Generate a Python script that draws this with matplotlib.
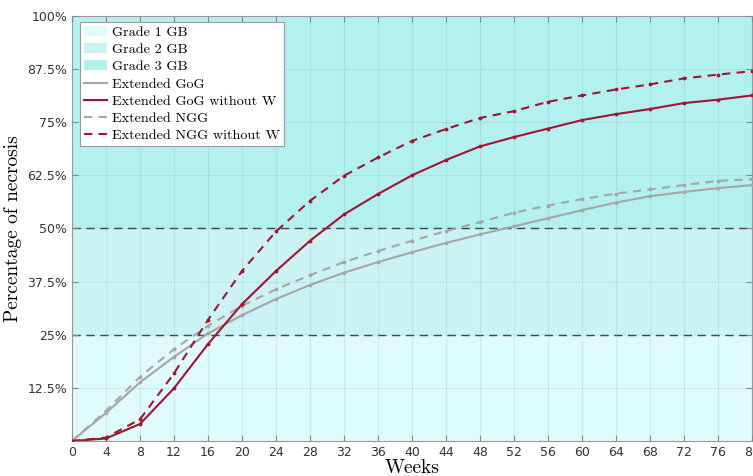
import matplotlib
matplotlib.use("Agg")
import matplotlib.pyplot as plt
from matplotlib.patches import Patch
from matplotlib.lines import Line2D
from matplotlib.ticker import FuncFormatter

# data (weeks, % necrosis)
weeks = [0, 4, 8, 12, 16, 20, 24, 28, 32, 36, 40, 44, 48, 52, 56, 60, 64, 68, 72, 76, 80]
gog = [0, 6.6, 13.8, 19.8, 25.3, 29.6, 33.4, 36.7, 39.6, 42.1, 44.4, 46.6, 48.6, 50.5,
       52.4, 54.3, 56.1, 57.6, 58.6, 59.5, 60.2]
gog_now = [0, 0.6, 4.0, 12.4, 22.8, 32.2, 40.0, 47.1, 53.3, 58.1, 62.5, 66.1, 69.3, 71.5,
           73.5, 75.5, 76.9, 78.1, 79.5, 80.3, 81.3]
ngg = [0, 7.1, 15.1, 21.6, 27.1, 31.8, 35.7, 39.0, 42.1, 44.7, 47.1, 49.4, 51.5, 53.7,
       55.4, 56.9, 58.2, 59.2, 60.2, 61.2, 61.6]
ngg_now = [0, 0.8, 5.1, 15.9, 28.5, 40.0, 49.3, 56.5, 62.4, 66.7, 70.6, 73.4, 76.0, 77.6,
           79.8, 81.3, 82.7, 83.9, 85.3, 86.2, 87.0]

grade_limits = [0, 25, 50, 100]
grade_names = ["Grade 1 GB", "Grade 2 GB", "Grade 3 GB"]
grade_cols = ["#e0fbfb", "#cbf3f3", "#b3f0f0"]

red = "#a2142f"
grey = "#a6a6a6"
serif = "cmr10"

fig = plt.figure(figsize=(7.53, 4.76), dpi=100)
ax = fig.add_axes([0.0956, 0.0735, 0.903, 0.893])

for i in range(3):
    ax.axhspan(grade_limits[i], grade_limits[i + 1], color=grade_cols[i], lw=0, zorder=0)

ax.axhline(25, color="#333333", lw=1, ls=(0, (6, 4)), zorder=2)
ax.axhline(50, color="#333333", lw=1, ls=(0, (6, 4)), zorder=2)

ax.plot(weeks, gog, color=grey, lw=1.5, marker=".", ms=3.5, zorder=3)
ax.plot(weeks, ngg, color=grey, lw=1.5, ls=(0, (4, 3)), marker=".", ms=3.5, zorder=3)
ax.plot(weeks, gog_now, color=red, lw=1.5, marker=".", ms=3.5, zorder=4)
ax.plot(weeks, ngg_now, color=red, lw=1.5, ls=(0, (4, 3)), marker=".", ms=3.5, zorder=4)

ax.set_xlim(0, 80)
ax.set_ylim(0, 100)
ax.set_xticks(range(0, 81, 4))
ax.set_yticks([12.5, 25, 37.5, 50, 62.5, 75, 87.5, 100])
ax.yaxis.set_major_formatter(FuncFormatter(lambda v, p: "%g%%" % v))
ax.grid(True, color="#7fa8a8", alpha=0.2, lw=0.8, zorder=1)
ax.set_axisbelow(False)
ax.tick_params(direction="in", length=4, color="#888888", labelsize=9,
               labelcolor="#333333", top=True, right=True)
for s in ax.spines.values():
    s.set_color("#999999")

ax.set_xlabel("Weeks", fontfamily=serif, fontsize=14, labelpad=0)
ax.set_ylabel("Percentage of necrosis", fontfamily=serif, fontsize=14, labelpad=4)

handles = [Patch(facecolor=grade_cols[i], edgecolor="none") for i in range(3)]
handles += [Line2D([], [], color=grey, lw=1.5),
            Line2D([], [], color=red, lw=1.5),
            Line2D([], [], color=grey, lw=1.5, ls=(0, (4, 3))),
            Line2D([], [], color=red, lw=1.5, ls=(0, (4, 3)))]
labels = grade_names + ["Extended GoG", "Extended GoG without W",
                        "Extended NGG", "Extended NGG without W"]
leg = ax.legend(handles, labels, loc="upper left", bbox_to_anchor=(0.012, 0.986),
                prop={"family": serif, "size": 10.2}, fancybox=False, framealpha=1,
                edgecolor="#999999", handlelength=1.6, handletextpad=0.35,
                labelspacing=0.3, borderpad=0.3, borderaxespad=0)
leg.get_frame().set_linewidth(0.8)

fig.savefig("out.png", dpi=100)
